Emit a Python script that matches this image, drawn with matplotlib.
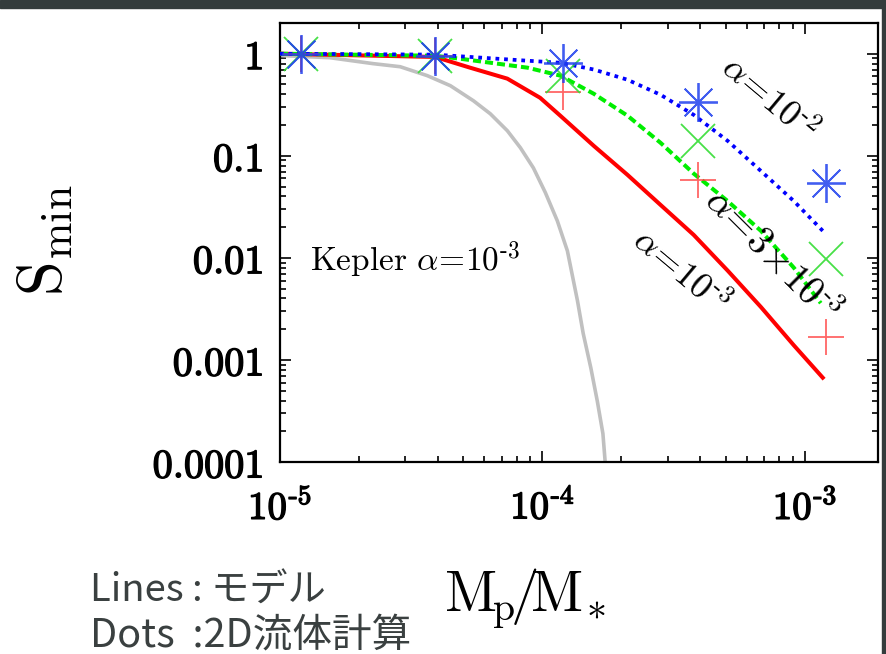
import numpy as np
import matplotlib
matplotlib.use("Agg")
import matplotlib.pyplot as plt
import matplotlib.patheffects as pe
from matplotlib.patches import Rectangle

plt.rcParams['mathtext.fontset'] = 'cm'
plt.rcParams['axes.unicode_minus'] = False

# --- data ---
# model curves (Mp/M*, S_min)
kep_x = [1e-5, 1.55e-5, 2.26e-5, 2.87e-5, 3.64e-5, 4.46e-5, 5.46e-5, 6.33e-5, 7.35e-5, 8.24e-5,
         9.24e-5, 1.026e-4, 1.14e-4, 1.245e-4, 1.36e-4, 1.43e-4, 1.53e-4, 1.62e-4, 1.70e-4, 1.74e-4]
kep_y = [0.96, 0.914, 0.80, 0.746, 0.61, 0.486, 0.346, 0.258, 0.176, 0.12,
         0.076, 0.0436, 0.023, 0.0117, 0.0038, 0.00182, 8.3e-4, 3.9e-4, 1.9e-4, 9e-5]

red_x = [1e-5, 3.9e-5, 5.3e-5, 7.35e-5, 9.8e-5, 1.17e-4, 1.57e-4, 2.11e-4, 2.82e-4, 3.77e-4,
         5.08e-4, 6.8e-4, 9.08e-4, 1.17e-3]
red_y = [1.0, 0.93, 0.73, 0.57, 0.37, 0.247, 0.125, 0.065, 0.033, 0.0168,
         0.0075, 0.0033, 0.00139, 6.7e-4]

grn_x = [1e-5, 3.9e-5, 4.87e-5, 8.77e-5, 1.17e-4, 1.57e-4, 2.11e-4, 2.82e-4, 3.77e-4, 5.08e-4,
         6.8e-4, 9.08e-4, 1.15e-3]
grn_y = [1.0, 0.955, 0.893, 0.73, 0.61, 0.405, 0.247, 0.134, 0.067, 0.036,
         0.0184, 0.0080, 0.0036]

blu_x = [1e-5, 3.9e-5, 8.77e-5, 1.17e-4, 1.57e-4, 2.11e-4, 2.82e-4, 3.77e-4, 5.08e-4, 6.8e-4,
         9.08e-4, 1.17e-3]
blu_y = [1.0, 0.98, 0.854, 0.816, 0.70, 0.556, 0.396, 0.252, 0.14, 0.071,
         0.036, 0.0184]

# 2D hydro results
sim_x = [1.2e-5, 3.9e-5, 1.2e-4, 3.9e-4, 1.2e-3]
sim_a1e3 = [1.0, 0.95, 0.42, 0.058, 0.00168]
sim_a3e3 = [1.0, 0.95, 0.61, 0.14, 0.0098]
sim_a1e2 = [1.0, 0.95, 0.82, 0.338, 0.054]

yticks = [1e-4, 1e-3, 1e-2, 1e-1, 1]
ylabels = ['0.0001', '0.001', '0.01', '0.1', '1']
xticks = [1e-5, 1e-4, 1e-3]
xlabels = ['5', '4', '3']

W, H = 887, 654


def fx(px):
    return px / W


def fy(py):
    return 1 - py / H


fig = plt.figure(figsize=(W / 100, H / 100), dpi=100)
ax = fig.add_axes([fx(280), fy(462), (878 - 280) / W, (462 - 23) / H])

ax.plot(kep_x, kep_y, color='#c0c0c0', lw=2.6, zorder=2)
ax.plot(red_x, red_y, color='#ff0000', lw=2.9, zorder=3)
ax.plot(grn_x, grn_y, color='#00ee00', lw=2.9, dashes=(2, 1), zorder=3)
ax.plot(blu_x, blu_y, color='#0000ff', lw=2.7, dashes=(1, 1.3), zorder=4)

ax.plot(sim_x, sim_a1e3, ls='none', marker='+', ms=26, mew=1.3, color='#ff4040', alpha=0.8, zorder=5)
ax.plot(sim_x, sim_a3e3, ls='none', marker='x', ms=24, mew=1.3, color='#33dd33', alpha=0.9, zorder=5)
ax.plot(sim_x, sim_a1e2, ls='none', marker=(8, 2, 0), ms=28, mew=1.3, color='#2040ee', alpha=0.85, zorder=6)

ax.set_xscale('log')
ax.set_yscale('log')
ax.set_xlim(1e-5, 1.9e-3)
ax.set_ylim(1e-4, 2.0)

bold = [pe.withStroke(linewidth=1.0, foreground='black')]
ax.set_yticks(yticks)
ax.set_yticklabels([r'$\mathbf{%s}$' % s for s in ylabels], fontsize=29)
ax.set_xticks(xticks)
ax.set_xticklabels([r'$\mathbf{10}^{\mathbf{\text{-}%s}}$' % s for s in xlabels], fontsize=28)
for t in ax.get_xticklabels() + ax.get_yticklabels():
    t.set_path_effects(bold)
ax.tick_params(which='both', direction='in', top=True, right=True, width=1.2)
ax.tick_params(which='major', length=8)
ax.tick_params(which='minor', length=4)
ax.tick_params(axis='y', pad=12)
ax.tick_params(axis='x', pad=19)
for sp in ax.spines.values():
    sp.set_linewidth(1.6)

fig.text(fx(310), fy(271), r'$\mathrm{Kepler}\ \alpha\!=\!10^{\text{-}3}$', fontsize=24, va='baseline')
fig.text(fx(768), fy(100), r'$\alpha\!=\!10^{\text{-}2}$', fontsize=26, rotation=-40, rotation_mode='anchor',
         ha='center', va='center')
fig.text(fx(772), fy(256), r'$\alpha\!=\!3\!\times\!10^{\text{-}3}$', fontsize=28, rotation=-45, rotation_mode='anchor',
         ha='center', va='center')
fig.text(fx(680), fy(272), r'$\alpha\!=\!10^{\text{-}3}$', fontsize=26, rotation=-40, rotation_mode='anchor',
         ha='center', va='center')

fig.text(fx(45), fy(240), r'$\mathrm{S_{min}}$', fontsize=45, rotation=90, ha='center', va='center')
fig.text(fx(525), fy(612), r'$\mathrm{M_{\!p}\!/\!M_{\!*}}$', fontsize=41, ha='center', va='baseline')

fig.text(fx(90), fy(602), 'Lines : モデル', fontsize=27.5, color='#3a4040',
         family=['Noto Sans CJK JP', 'DejaVu Sans'], va='baseline')
fig.text(fx(90), fy(646), 'Dots  :2D流体計算', fontsize=28.5, color='#3a4040',
         family=['Noto Sans CJK JP', 'DejaVu Sans'], va='baseline')

# slide frame
fig.patches.append(Rectangle((0, fy(8)), 1, 8 / H, transform=fig.transFigure, color='#343c3c', zorder=10))
fig.patches.append(Rectangle((fx(882), 0), 5 / W, 1, transform=fig.transFigure, color='#343c3c', zorder=10))

fig.savefig('out.png', dpi=100)
